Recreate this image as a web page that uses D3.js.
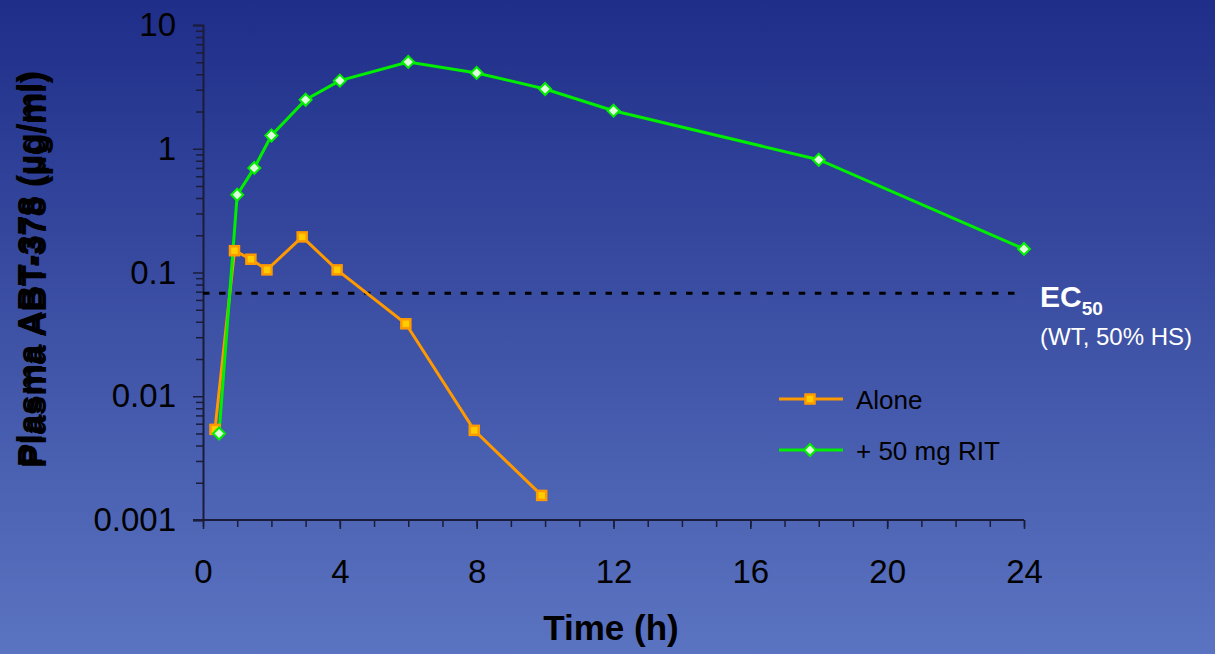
<!DOCTYPE html>
<html>
<head>
<meta charset="utf-8">
<script src="https://cdn.jsdelivr.net/npm/d3@7"></script>
<style>
  html, body { margin: 0; padding: 0; }
  body { width: 1215px; height: 654px; overflow: hidden; font-family: Arial, "Liberation Sans", sans-serif; }
</style>
</head>
<body>
<svg id="chart" width="1215" height="654"></svg>
<script>
// plasma levels, two regimens
const aloneTime  = [0.35, 0.92, 1.4, 1.87, 2.9, 3.92, 5.93, 7.93, 9.9];
const aloneConc  = [0.0054, 0.150, 0.128, 0.105, 0.194, 0.105, 0.0385, 0.0053, 0.00158];
const ritTime    = [0.47, 1, 1.5, 2, 3, 4, 6, 8, 10, 12, 18, 24];
const ritConc    = [0.005, 0.425, 0.70, 1.28, 2.49, 3.55, 5.03, 4.10, 3.04, 2.03, 0.815, 0.155];
const ec50       = 0.068;
const xTicks     = [0, 4, 8, 12, 16, 20, 24];
const yTicks     = [0.001, 0.01, 0.1, 1, 10];
const yTickText  = ["0.001", "0.01", "0.1", "1", "10"];
const seriesNames = ["Alone", "+ 50 mg RIT"];

var svg = d3.select('#chart');

// slide background
var defs = svg.append("defs");
var grad = defs.append("linearGradient")
    .attr("id", "bg").attr("x1", 0).attr("y1", 0).attr("x2", 0).attr("y2", 1);
grad.append("stop").attr("offset", "0%").attr("stop-color", "#1f2e89");
grad.append("stop").attr("offset", "100%").attr("stop-color", "#5b74c1");
svg.append("rect").attr("width", 1215).attr("height", 654).attr("fill", "url(#bg)");

var x = d3.scaleLinear().domain([0, 24]).range([203, 1024]);
var y = d3.scaleLog().domain([0.001, 10]).range([520, 25]);

var axisColor = "#1a1c3a";

// minor y ticks (2..9 in every decade)
var yMinor = [];
yTicks.slice(0, -1).forEach(function(d) {
    for (var k = 2; k <= 9; k++) yMinor.push(d * k);
});

var gyMinor = svg.append("g")
    .attr("transform", "translate(203,0)")
    .call(d3.axisLeft(y).tickValues(yMinor).tickSize(7).tickFormat(""));
gyMinor.select(".domain").remove();
gyMinor.selectAll("line").attr("stroke", axisColor).attr("stroke-width", 1.5);

var gy = svg.append("g")
    .attr("transform", "translate(203,0)")
    .call(d3.axisLeft(y).tickValues(yTicks).tickSize(10).tickPadding(17)
        .tickFormat(function(d, i) { return yTickText[i]; }));
gy.select(".domain").attr("stroke", axisColor).attr("stroke-width", 2);
gy.selectAll("line").attr("stroke", axisColor).attr("stroke-width", 1.5);
gy.selectAll("text")
    .attr("fill", "#000")
    .style("font-size", "33px")
    .style("font-family", "Arial, 'Liberation Sans', sans-serif");

// x axis: minor each hour, labels every 4 h
var gxMinor = svg.append("g")
    .attr("transform", "translate(0,520)")
    .call(d3.axisBottom(x).tickValues(d3.range(0, 25)).tickSize(7).tickFormat(""));
gxMinor.select(".domain").remove();
gxMinor.selectAll("line").attr("stroke", axisColor).attr("stroke-width", 1.5);

var gx = svg.append("g")
    .attr("transform", "translate(0,520)")
    .call(d3.axisBottom(x).tickValues(xTicks).tickSize(9).tickPadding(31));
gx.select(".domain").attr("stroke", axisColor).attr("stroke-width", 2)
    .attr("d", "M193,0H1024");
gx.selectAll("line").attr("stroke", axisColor).attr("stroke-width", 1.5);
gx.selectAll("text")
    .attr("fill", "#000")
    .style("font-size", "33px")
    .style("font-family", "Arial, 'Liberation Sans', sans-serif");

// axis titles
svg.append("text")
    .attr("x", 611).attr("y", 640)
    .attr("text-anchor", "middle")
    .style("font-size", "35px").style("font-weight", "bold")
    .attr("fill", "#000")
    .text("Time (h)");

// y title is doubled on the slide
[[0, 0], [4, 1]].forEach(function(o) {
    svg.append("text")
        .attr("transform", "translate(" + (42 + o[0]) + "," + (269 + o[1]) + ") rotate(-90)")
        .attr("text-anchor", "middle")
        .style("font-size", "35px").style("font-weight", "bold")
        .attr("fill", "#000")
        .text("Plasma ABT-378 (µg/ml)");
});

// EC50 reference line
svg.append("line")
    .attr("x1", x(0)).attr("x2", x(24))
    .attr("y1", y(ec50)).attr("y2", y(ec50))
    .attr("stroke", "#000").attr("stroke-width", 3)
    .attr("stroke-dasharray", "6.5,9.6");

var ecText = svg.append("text")
    .attr("x", 1040).attr("y", 307)
    .attr("fill", "#fff")
    .style("font-weight", "bold").style("font-size", "30px");
ecText.append("tspan").text("EC");
ecText.append("tspan").attr("dy", 8).style("font-size", "19px").text("50");

svg.append("text")
    .attr("x", 1040).attr("y", 345)
    .attr("fill", "#fff")
    .style("font-size", "24px")
    .text("(WT, 50% HS)");

// series
var line = d3.line()
    .x(function(d) { return x(d.t); })
    .y(function(d) { return y(d.c); });

var alone = aloneTime.map(function(t, i) { return { t: t, c: aloneConc[i] }; });
var rit = ritTime.map(function(t, i) { return { t: t, c: ritConc[i] }; });

svg.append("path").datum(alone)
    .attr("fill", "none").attr("stroke", "#ff9900").attr("stroke-width", 3)
    .attr("d", line);
svg.append("path").datum(rit)
    .attr("fill", "none").attr("stroke", "#00ee00").attr("stroke-width", 3)
    .attr("d", line);

function squareMark(sel) {
    sel.attr("width", 9).attr("height", 9)
        .attr("x", -4.5).attr("y", -4.5)
        .attr("fill", "#ffcc00").attr("stroke", "#ff9900").attr("stroke-width", 2.5);
}
function diamondMark(sel) {
    sel.attr("d", "M0,-6L6,0L0,6L-6,0Z")
        .attr("fill", "#dcffdc").attr("stroke", "#00ee00").attr("stroke-width", 2);
}

svg.selectAll(".alonePt").data(alone).enter().append("rect")
    .attr("class", "alonePt")
    .call(squareMark)
    .attr("transform", function(d) { return "translate(" + x(d.t) + "," + y(d.c) + ")"; });

svg.selectAll(".ritPt").data(rit).enter().append("path")
    .attr("class", "ritPt")
    .call(diamondMark)
    .attr("transform", function(d) { return "translate(" + x(d.t) + "," + y(d.c) + ")"; });

// legend
var legend = svg.append("g");
var rows = [
    { y: 399, color: "#ff9900", mark: squareMark, el: "rect" },
    { y: 450, color: "#00ee00", mark: diamondMark, el: "path" }
];
rows.forEach(function(r, i) {
    legend.append("line")
        .attr("x1", 779).attr("x2", 843).attr("y1", r.y).attr("y2", r.y)
        .attr("stroke", r.color).attr("stroke-width", 3);
    legend.append(r.el).call(r.mark)
        .attr("transform", "translate(810," + r.y + ")");
    legend.append("text")
        .attr("x", 856).attr("y", r.y + 10)
        .attr("fill", "#000")
        .style("font-size", "26px")
        .text(seriesNames[i]);
});
</script>
</body>
</html>
